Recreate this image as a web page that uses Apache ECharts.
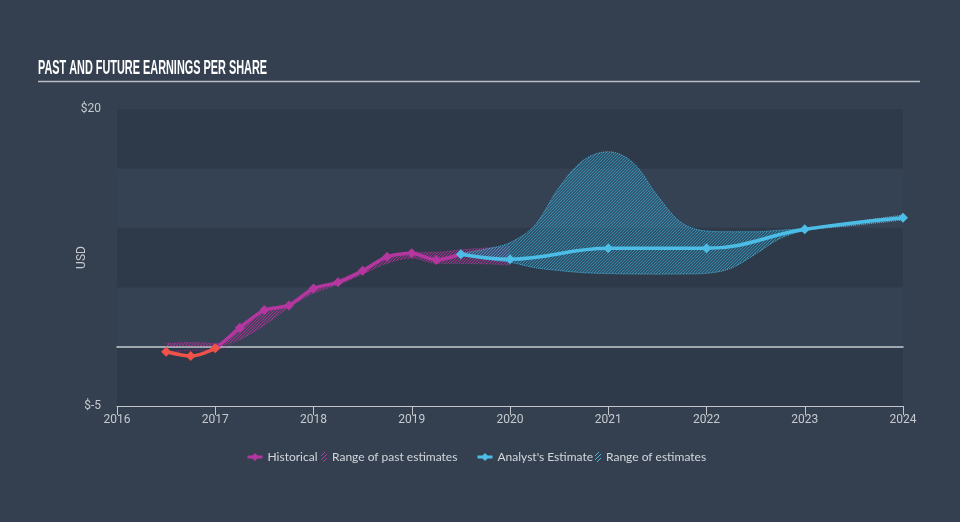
<!DOCTYPE html>
<html><head><meta charset="utf-8">
<script src="https://cdn.jsdelivr.net/npm/echarts@6/dist/echarts.min.js"></script>
<style>html,body{margin:0;padding:0;background:#344050;}#c{width:960px;height:522px;}</style>
</head><body><div id="c"></div>
<script>
// ---- data (x in decimal years) ----
const histX   = [2016.5, 2016.75, 2017.0, 2017.25, 2017.5, 2017.75, 2018.0, 2018.25, 2018.5, 2018.75, 2019.0, 2019.25, 2019.5];
const histEPS = [-0.43, -0.79, -0.14, 1.59, 3.08, 3.47, 4.9, 5.41, 6.39, 7.57, 7.85, 7.29, 7.77];

const pastRangeX = [2016.5, 2016.75, 2017.0, 2017.25, 2017.5, 2017.75, 2018.0, 2018.25, 2018.5, 2018.75, 2019.0, 2019.25, 2019.5, 2019.75, 2020.0];
const pastLow    = [-0.45, -0.3, -0.25, 0.6, 1.8, 3.3, 4.5, 5.2, 6.1, 7.0, 7.45, 7.0, 7.0, 6.95, 6.87];
const pastHigh   = [-0.2, 0.05, 0.0, 1.4, 2.9, 3.5, 4.8, 5.6, 6.5, 7.4, 7.95, 7.95, 8.15, 8.3, 8.4];

const estX   = [2019.5, 2020.0, 2021.0, 2022.0, 2023.0, 2024.0];
const estEPS = [7.77, 7.35, 8.27, 8.27, 9.87, 10.85];

const estRangeX = [2019.5, 2019.75, 2020.0, 2020.25, 2020.5, 2020.75, 2021.0, 2021.25, 2021.5, 2021.75, 2022.0, 2022.25, 2022.5, 2022.75, 2023.0, 2023.5, 2024.0];
const estLow    = [7.7, 7.35, 7.1, 6.65, 6.4, 6.22, 6.15, 6.11, 6.1, 6.11, 6.17, 6.6, 7.8, 9.1, 9.75, 10.2, 10.65];
const estHigh   = [7.85, 8.2, 8.75, 10.2, 13.4, 15.7, 16.4, 15.5, 12.7, 10.4, 9.73, 9.67, 9.67, 9.8, 9.96, 10.5, 11.08];

const xTicks = [2016, 2017, 2018, 2019, 2020, 2021, 2022, 2023, 2024];
const yLabelValues = [-5, 20];
const yLabelTexts  = ['$-5', '$20'];

const titleText = 'PAST AND FUTURE EARNINGS PER SHARE';
const legendNames = ['Historical', 'Range of past estimates', "Analyst's Estimate", 'Range of estimates'];

// ---- styles ----
const PURPLE = '#b4369f', RED = '#f0524a', BLUE = '#4cbde6';

function hatch(line, fill, w, h, step) {
  const c = document.createElement('canvas'); c.width = w; c.height = h;
  const g = c.getContext('2d');
  if (fill) { g.fillStyle = fill; g.fillRect(0, 0, w, h); }
  g.strokeStyle = line; g.lineWidth = 1; g.beginPath();
  for (let k = -h; k < w + h; k += step) { g.moveTo(k, h); g.lineTo(k + h, 0); }
  g.stroke();
  return c;
}
const pastPattern = hatch('rgba(185,50,160,0.8)', 'rgba(177,55,157,0.15)', 3, 3, 3);
const estPattern  = hatch('rgba(70,180,220,0.55)', 'rgba(45,130,170,0.35)', 3, 3, 3);
const pastIcon = hatch('rgba(190,60,165,0.9)', null, 6, 10, 4).toDataURL();
const estIcon  = hatch('rgba(76,189,230,0.95)', null, 6, 10, 4).toDataURL();

const pairs = (xs, ys) => xs.map((x, i) => [x, ys[i]]);
// range rows are [value, x] so that stacking is applied to the value (y) dimension
const rowsLow  = (xs, lo) => xs.map((x, i) => [lo[i], x]);
const rowsDiff = (xs, lo, hi) => xs.map((x, i) => [+(hi[i] - lo[i]).toFixed(3), x]);

// title scaling to condensed width
const mc = document.createElement('canvas').getContext('2d');
const titleFont = 'bold 21px "Liberation Sans Narrow", "Liberation Sans", sans-serif';
mc.font = titleFont;
const titleScale = 229 / mc.measureText(titleText).width;

const chart = echarts.init(document.getElementById('c'), null, { renderer: 'canvas' });
const legendText = { color: '#d3d7dc', fontSize: 12, fontFamily: 'Lato, "Noto Sans", sans-serif' };
const axisX = { type: 'value', min: xTicks[0], max: xTicks[xTicks.length - 1], interval: 1 };
const rangeEncode = { x: 1, y: 0 };
chart.setOption({
  backgroundColor: '#344050',
  animation: false,
  graphic: [
    { type: 'text', x: 38, y: 58, scaleX: titleScale, scaleY: 1,
      style: { text: titleText, fill: '#ffffff', font: titleFont } },
    { type: 'line', shape: { x1: 38, y1: 81.5, x2: 920, y2: 81.5 },
      style: { stroke: '#b9bdc3', lineWidth: 1.5 } }
  ],
  grid: { left: 117, right: 57, top: 109, bottom: 116 },
  legend: [
    { data: [{ name: legendNames[0], itemStyle: { color: PURPLE }, lineStyle: { color: PURPLE, width: 3 } }],
      left: 246, top: 451, padding: 0, itemWidth: 15, itemHeight: 10, textStyle: legendText, selectedMode: false },
    { data: [{ name: legendNames[1], icon: 'image://' + pastIcon }],
      left: 321, top: 451, padding: 0, itemWidth: 6, itemHeight: 10, textStyle: legendText, selectedMode: false },
    { data: [{ name: legendNames[2], itemStyle: { color: BLUE }, lineStyle: { color: BLUE, width: 3 } }],
      left: 476, top: 451, padding: 0, itemWidth: 15, itemHeight: 10, textStyle: legendText, selectedMode: false },
    { data: [{ name: legendNames[3], icon: 'image://' + estIcon }],
      left: 595, top: 451, padding: 0, itemWidth: 6, itemHeight: 10, textStyle: legendText, selectedMode: false }
  ],
  xAxis: [
    Object.assign({}, axisX, {
      axisLine: { show: true, onZero: false, lineStyle: { color: '#c3c7cc', width: 1 } },
      axisTick: { show: true, length: 9, lineStyle: { color: '#c3c7cc' } },
      axisLabel: { color: '#c6cacf', fontSize: 12, margin: 8, fontFamily: 'Roboto, sans-serif',
        formatter: v => String(v), showMinLabel: true, showMaxLabel: true },
      splitLine: { show: false }
    }),
    Object.assign({}, axisX, {
      position: 'bottom',
      axisLine: { show: true, onZero: true, onZeroAxisIndex: 0, lineStyle: { color: '#c8ccd1', width: 1.5 } },
      axisTick: { show: false }, axisLabel: { show: false }, splitLine: { show: false }
    })
  ],
  yAxis: {
    type: 'value', min: -5, max: 20, interval: 5,
    name: 'USD', nameLocation: 'middle', nameGap: 29, nameRotate: 90, nameMoveOverlap: false,
    nameTextStyle: { color: '#c6cacf', fontSize: 12, fontFamily: 'Roboto, sans-serif' },
    axisLine: { show: false, onZero: false }, axisTick: { show: false },
    axisLabel: { color: '#c6cacf', fontSize: 12, margin: 16, fontFamily: 'Roboto, sans-serif',
      formatter: v => { const i = yLabelValues.indexOf(v); return i >= 0 ? yLabelTexts[i] : ''; } },
    splitLine: { show: false },
    splitArea: { show: true, areaStyle: { color: ['#2e3a49', 'rgba(58,72,89,0.35)', '#2e3a49', 'rgba(58,72,89,0.35)', '#2e3a49'] } }
  },
  visualMap: {
    type: 'piecewise', show: false, seriesIndex: 4, dimension: 1,
    pieces: [{ min: -50, max: 0, color: RED }, { gt: 0, max: 50, color: PURPLE }]
  },
  series: [
    { type: 'line', name: 'pastLow', stack: 'past', data: rowsLow(pastRangeX, pastLow), encode: rangeEncode,
      smooth: 0.35, showSymbol: false, silent: true, z: 1,
      lineStyle: { color: 'rgba(190,55,165,0.6)', width: 1, type: 'dotted' } },
    { type: 'line', name: legendNames[1], stack: 'past', data: rowsDiff(pastRangeX, pastLow, pastHigh), encode: rangeEncode,
      smooth: 0.35, showSymbol: false, silent: true, z: 1,
      itemStyle: { color: PURPLE },
      lineStyle: { color: 'rgba(190,55,165,0.6)', width: 1, type: 'dotted' },
      areaStyle: { color: { image: pastPattern, repeat: 'repeat' }, opacity: 1 } },
    { type: 'line', name: 'estLow', stack: 'est', data: rowsLow(estRangeX, estLow), encode: rangeEncode,
      smooth: 0.35, showSymbol: false, silent: true, z: 2,
      lineStyle: { color: 'rgba(76,189,230,0.85)', width: 1, type: 'dotted' } },
    { type: 'line', name: legendNames[3], stack: 'est', data: rowsDiff(estRangeX, estLow, estHigh), encode: rangeEncode,
      smooth: 0.35, showSymbol: false, silent: true, z: 2,
      itemStyle: { color: BLUE },
      lineStyle: { color: 'rgba(76,189,230,0.85)', width: 1, type: 'dotted' },
      areaStyle: { color: { image: estPattern, repeat: 'repeat' }, opacity: 1 } },
    { type: 'line', name: legendNames[0], data: pairs(histX, histEPS), smooth: 0.25,
      symbol: 'diamond', symbolSize: 10, showSymbol: true, z: 5,
      itemStyle: { color: PURPLE }, lineStyle: { width: 3.5 } },
    { type: 'line', name: legendNames[2], data: pairs(estX, estEPS), smooth: 0.4,
      symbol: 'diamond', symbolSize: 10, showSymbol: true, z: 6,
      itemStyle: { color: BLUE }, lineStyle: { color: BLUE, width: 3.5 } }
  ]
});
</script>
</body></html>
